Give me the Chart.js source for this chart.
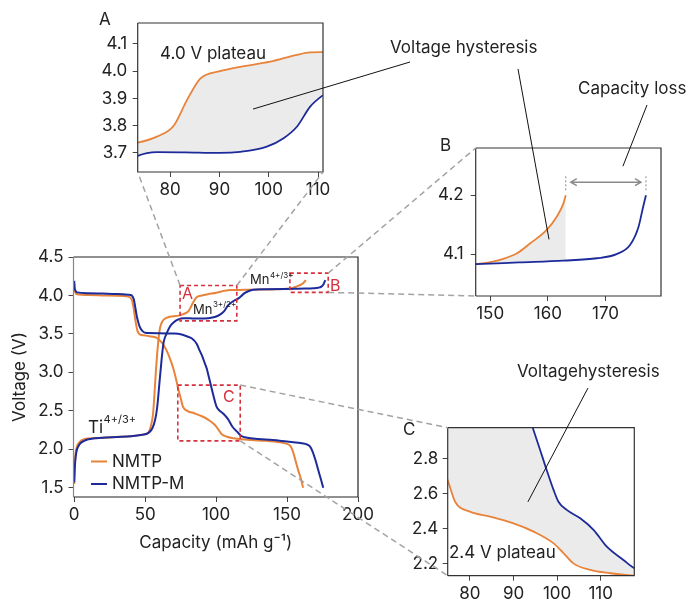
<!DOCTYPE html>
<html>
<head>
<meta charset="utf-8">
<script src="https://cdn.jsdelivr.net/npm/chart.js@4.4.1/dist/chart.umd.min.js"></script>
<style>
  body { margin: 0; background: #fff; }
  #wrap { position: relative; width: 687px; height: 604px; overflow: hidden; }
  canvas { position: absolute; }
</style>
</head>
<body>
<div id="wrap">
  <canvas id="main" width="380" height="320" style="left:0;top:240px"></canvas>
  <canvas id="insetA" width="245" height="200" style="left:90px;top:0"></canvas>
  <canvas id="insetB" width="245" height="195" style="left:430px;top:130px"></canvas>
  <canvas id="insetC" width="260" height="194" style="left:390px;top:410px"></canvas>
  <canvas id="overlay" width="687" height="604" style="left:0;top:0;pointer-events:none"></canvas>
</div>
<script>
// charge curves (capacity, voltage)
const chgCapNMTP = [0, 0.3, 1, 2, 4, 7, 10, 20, 30, 40, 48, 52, 54, 55.5, 56.5, 57.5, 58.5, 59.5, 60.5, 62, 65, 70, 73.4, 77.3, 80.7, 83.4, 86.1, 90.1, 94.2, 100.3, 105.7, 108.4, 111, 120, 130, 140, 147.5, 151.2, 154.6, 156.9, 159.8, 161.5, 162.7, 163.1];
const chgVNMTP = [1.55, 1.75, 1.95, 2.04, 2.1, 2.13, 2.14, 2.15, 2.16, 2.17, 2.19, 2.21, 2.3, 2.45, 2.7, 3.0, 3.25, 3.45, 3.58, 3.66, 3.71, 3.73, 3.738, 3.76, 3.80, 3.894, 3.973, 4.0, 4.016, 4.035, 4.06, 4.069, 4.07, 4.073, 4.076, 4.079, 4.083, 4.089, 4.101, 4.118, 4.141, 4.163, 4.186, 4.2];
const chgCapM = [0, 0.3, 1, 2, 4, 7, 10, 20, 30, 40, 48, 52, 55, 57, 58.5, 60, 61.5, 63, 65, 67.6, 70, 73.4, 77.3, 83, 90, 94.2, 99.6, 103, 105.7, 108.4, 111, 113, 116, 120, 124, 128, 135, 147.5, 155, 162.7, 168.5, 171.9, 174.2, 175.7, 176.5, 177];
const chgVM = [1.57, 1.72, 1.9, 2.0, 2.07, 2.11, 2.13, 2.15, 2.16, 2.17, 2.19, 2.21, 2.27, 2.38, 2.55, 2.85, 3.15, 3.39, 3.5, 3.6, 3.65, 3.689, 3.703, 3.702, 3.70, 3.704, 3.723, 3.754, 3.796, 3.87, 3.912, 3.935, 3.965, 4.03, 4.065, 4.078, 4.08, 4.083, 4.086, 4.089, 4.093, 4.1, 4.115, 4.146, 4.18, 4.2];

// discharge curves
const disCapNMTP = [0, 0.3, 1, 2, 10, 20, 30, 38, 40.5, 42, 43, 44.6, 46.5, 48.8, 53, 58.2, 60, 62.9, 66.4, 70, 72.3, 73.5, 75, 76.6, 80, 84.6, 90, 94.6, 99.2, 101.5, 103.8, 107.6, 112.2, 117.5, 125, 135, 145, 150, 152, 154, 156, 158, 160, 161.3];
const disVNMTP = [4.15, 4.08, 4.03, 4.015, 4.005, 4.0, 3.995, 3.985, 3.95, 3.82, 3.69, 3.54, 3.49, 3.482, 3.47, 3.45, 3.42, 3.36, 3.23, 3.04, 2.87, 2.77, 2.669, 2.554, 2.497, 2.469, 2.43, 2.383, 2.316, 2.259, 2.2, 2.164, 2.145, 2.131, 2.12, 2.11, 2.09, 2.07, 2.05, 1.98, 1.85, 1.72, 1.6, 1.5];
const disCapM = [0, 0.3, 1, 2, 10, 20, 30, 38, 40.5, 42, 43, 44.1, 45.5, 46.5, 48, 50, 60, 70, 75, 79.3, 83, 86.4, 88, 90, 92, 93.4, 94.4, 96.1, 97.6, 99.2, 100.3, 102.2, 105.3, 108.4, 111.4, 115.2, 117.8, 122, 130, 140, 150, 158, 163, 166, 168, 170, 172, 174, 175.5];
const disVM = [4.19, 4.1, 4.06, 4.04, 4.03, 4.025, 4.02, 4.01, 4.0, 3.95, 3.85, 3.73, 3.63, 3.58, 3.54, 3.515, 3.51, 3.505, 3.495, 3.47, 3.44, 3.37, 3.3, 3.22, 3.12, 3.05, 2.977, 2.85, 2.735, 2.62, 2.554, 2.507, 2.459, 2.392, 2.297, 2.221, 2.173, 2.15, 2.135, 2.12, 2.1, 2.085, 2.07, 2.04, 1.97, 1.86, 1.73, 1.6, 1.5];

// tick labels
const mainXTicks = [0, 50, 100, 150, 200];
const mainYTicks = [1.5, 2.0, 2.5, 3.0, 3.5, 4.0, 4.5];
const aXTicks = [80, 90, 100, 110];
const aYTicks = [3.7, 3.8, 3.9, 4.0, 4.1];
const bXTicks = [150, 160, 170];
const bYTicks = [4.1, 4.2];
const cXTicks = [80, 90, 100, 110];
const cYTicks = [2.2, 2.4, 2.6, 2.8];

// zoom windows marked on the main plot [xmin, xmax, ymin, ymax]
const boxA = [74.6, 114.6, 3.67, 4.13];
const boxB = [152, 179, 4.04, 4.29];
const boxC = [73, 117, 2.11, 2.835];

const FONT = 'Inter, "Noto Sans", sans-serif';
const orange = '#e8833a';
const blue = '#1c2a9a';
const red = '#d7303d';
const fillGrey = '#ebebeb';
const ink = '#222';

function pts(xs, ys) { return xs.map((x, i) => ({ x, y: ys[i] })); }

function lineSet(label, xs, ys, color, width, extra) {
  return Object.assign({
    label, data: pts(xs, ys), borderColor: color, borderWidth: width,
    pointRadius: 0, cubicInterpolationMode: 'monotone', fill: false
  }, extra || {});
}

function axis(min, max, ticks, o) {
  return {
    type: 'linear', min, max,
    afterBuildTicks: s => { s.ticks = ticks.map(v => ({ value: v })); },
    afterFit: s => { if (s.isHorizontal()) s.height = o.size; else s.width = o.size; },
    grid: { drawOnChartArea: false, drawTicks: true, tickLength: 5, color: '#444', lineWidth: 1 },
    border: { display: false },
    ticks: {
      color: ink, padding: o.pad, maxRotation: 0, autoSkip: false,
      font: { family: FONT, size: 17 },
      callback: o.fmt
    },
    title: o.title
      ? { display: true, text: o.title, color: ink, font: { family: FONT, size: 17 }, padding: o.titlePad }
      : { display: false }
  };
}

const framePlugin = {
  id: 'frame',
  afterDraw(chart, args, opts) {
    const { ctx, chartArea: a } = chart;
    ctx.save();
    ctx.lineWidth = 1.2;
    ctx.strokeStyle = opts.color || '#333';
    ctx.beginPath();
    ctx.moveTo(a.left, a.bottom); ctx.lineTo(a.right, a.bottom);
    ctx.lineTo(a.right, a.top); ctx.lineTo(a.left, a.top);
    ctx.stroke();
    ctx.strokeStyle = opts.left || opts.color || '#333';
    ctx.beginPath();
    ctx.moveTo(a.left, a.top); ctx.lineTo(a.left, a.bottom);
    ctx.stroke();
    ctx.restore();
  }
};

// red dashed zoom boxes on the main plot
const boxPlugin = {
  id: 'boxes',
  afterDatasetsDraw(chart) {
    const { ctx, scales: { x, y } } = chart;
    ctx.save();
    ctx.strokeStyle = red;
    ctx.lineWidth = 1.6;
    ctx.setLineDash([4, 3]);
    [boxA, boxB, boxC].forEach(b => {
      const x0 = x.getPixelForValue(b[0]), x1 = x.getPixelForValue(b[1]);
      const y0 = y.getPixelForValue(b[3]), y1 = y.getPixelForValue(b[2]);
      ctx.strokeRect(x0, y0, x1 - x0, y1 - y0);
    });
    ctx.restore();
  }
};

// capacity-loss arrow in inset B
const arrowPlugin = {
  id: 'lossArrow',
  afterDatasetsDraw(chart) {
    const { ctx, scales: { x, y } } = chart;
    const xa = x.getPixelForValue(163.1), xb = x.getPixelForValue(177);
    const ya = y.getPixelForValue(4.222);
    ctx.save();
    ctx.strokeStyle = '#8a8a8a';
    ctx.lineWidth = 1;
    ctx.setLineDash([2, 2]);
    ctx.beginPath();
    ctx.moveTo(xa, y.getPixelForValue(4.232)); ctx.lineTo(xa, y.getPixelForValue(4.205));
    ctx.moveTo(xb, y.getPixelForValue(4.232)); ctx.lineTo(xb, y.getPixelForValue(4.205));
    ctx.stroke();
    ctx.setLineDash([]);
    ctx.lineWidth = 1.4;
    const l = xa + 5, r = xb - 5;
    ctx.beginPath();
    ctx.moveTo(l, ya); ctx.lineTo(r, ya);
    ctx.moveTo(l + 6, ya - 3.5); ctx.lineTo(l, ya); ctx.lineTo(l + 6, ya + 3.5);
    ctx.moveTo(r - 6, ya - 3.5); ctx.lineTo(r, ya); ctx.lineTo(r - 6, ya + 3.5);
    ctx.stroke();
    ctx.restore();
  }
};

const common = {
  responsive: false, animation: false, devicePixelRatio: 1,
  plugins: { legend: { display: false }, tooltip: { enabled: false } }
};
const fmt1 = v => v.toFixed(1);
const fmt0 = v => String(v);

const mainChart = new Chart(document.getElementById('main'), {
  type: 'line',
  data: { datasets: [
    lineSet('NMTP-M', chgCapM, chgVM, blue, 2),
    lineSet('NMTP-M', disCapM, disVM, blue, 2),
    lineSet('NMTP', chgCapNMTP, chgVNMTP, orange, 2),
    lineSet('NMTP', disCapNMTP, disVNMTP, orange, 2)
  ] },
  options: Object.assign({}, common, {
    layout: { padding: { left: 0, top: 17, right: 22, bottom: 0 } },
    plugins: Object.assign({}, common.plugins, { frame: { color: '#222', left: '#888' } }),
    scales: {
      x: axis(-0.5, 200, mainXTicks, { size: 63, pad: 3, fmt: fmt0, title: 'Capacity (mAh g\u207B\u00B9)', titlePad: { top: 0, bottom: 7 } }),
      y: axis(1.38, 4.5, mainYTicks, { size: 73.5, pad: 5, fmt: fmt1, title: 'Voltage (V)', titlePad: { top: 10, bottom: 0 } })
    }
  }),
  plugins: [framePlugin, boxPlugin]
});

function inset(id, sets, xr, yr, xt, yt, pad, yw, xh, ypad, extra) {
  return new Chart(document.getElementById(id), {
    type: 'line',
    data: { datasets: sets },
    options: Object.assign({}, common, {
      layout: { padding: pad },
      plugins: Object.assign({}, common.plugins, { frame: { color: '#333' } }),
      scales: {
        x: axis(xr[0], xr[1], xt, { size: xh, pad: 3, fmt: fmt0 }),
        y: axis(yr[0], yr[1], yt, { size: yw, pad: ypad, fmt: fmt1 })
      }
    }),
    plugins: [framePlugin].concat(extra || [])
  });
}

const chartA = inset('insetA', [
  lineSet('NMTP-M', chgCapM, chgVM, blue, 1.8),
  lineSet('NMTP', chgCapNMTP, chgVNMTP, orange, 1.8, { fill: '-1', backgroundColor: fillGrey })
], [73.4, 111], [3.63, 4.177], aXTicks, aYTicks, { left: 0, top: 23, right: 12, bottom: 0 }, 47.7, 28, 5.5);

const chartB = inset('insetB', [
  lineSet('NMTP-M', chgCapM, chgVM, blue, 1.8),
  lineSet('NMTP', chgCapNMTP, chgVNMTP, orange, 1.8, { fill: '-1', backgroundColor: fillGrey })
], [147.5, 179.6], [4.029, 4.28], bXTicks, bYTicks, { left: 0, top: 18, right: 14, bottom: 0 }, 45.7, 29, 7, [arrowPlugin]);

const chartC = inset('insetC', [
  lineSet('NMTP-M', disCapM, disVM, blue, 1.8),
  lineSet('NMTP', disCapNMTP, disVNMTP, orange, 1.8, { fill: '-1', backgroundColor: fillGrey })
], [74.9, 117.7], [2.131, 2.977], cXTicks, cYTicks, { left: 0, top: 17.7, right: 15.7, bottom: 0 }, 57.7, 28.3, 4.5);

// ---------- overlay: connectors, callouts, labels ----------
const ov = document.getElementById('overlay').getContext('2d');
const offs = { main: [0, 240], insetA: [90, 0], insetB: [430, 130], insetC: [390, 410] };

function px(chart, xv, yv) {
  const o = offs[chart.canvas.id];
  return [chart.scales.x.getPixelForValue(xv) + o[0], chart.scales.y.getPixelForValue(yv) + o[1]];
}
function corner(chart, which) {
  const a = chart.chartArea, o = offs[chart.canvas.id];
  const xs = which[1] === 'l' ? a.left : a.right;
  const ys = which[0] === 't' ? a.top : a.bottom;
  return [xs + o[0], ys + o[1]];
}
function seg(p, q) { ov.beginPath(); ov.moveTo(p[0], p[1]); ov.lineTo(q[0], q[1]); ov.stroke(); }

// grey dashed connectors
ov.save();
ov.strokeStyle = '#a3a3a3';
ov.lineWidth = 1.5;
ov.setLineDash([6, 4]);
seg(px(mainChart, boxA[0], boxA[3]), corner(chartA, 'bl'));
seg(px(mainChart, boxA[1], boxA[3]), corner(chartA, 'br'));
seg(px(mainChart, boxB[1], boxB[3]), corner(chartB, 'tl'));
seg(px(mainChart, boxB[1], boxB[2]), corner(chartB, 'bl'));
seg(px(mainChart, boxC[1], boxC[3]), corner(chartC, 'tl'));
seg(px(mainChart, boxC[1], boxC[2]), corner(chartC, 'bl'));
ov.restore();

// black callout lines
ov.save();
ov.strokeStyle = '#111';
ov.lineWidth = 1;
seg([410, 62], px(chartA, 96.8, 3.861));
seg([518, 69], px(chartB, 160.2, 4.125));
seg([647, 105], px(chartB, 173, 4.249));
seg([588, 388], px(chartC, 93.3, 2.553));
ov.restore();

function text(str, x, y, size, color) {
  ov.font = size + 'px ' + FONT;
  ov.fillStyle = color || ink;
  ov.textBaseline = 'alphabetic';
  ov.textAlign = 'left';
  ov.fillText(str, x, y);
}
function supText(base, sup, x, y, size, supSize, rise) {
  text(base, x, y, size);
  ov.font = size + 'px ' + FONT;
  const w = ov.measureText(base).width;
  text(sup, x + w + 0.5, y - rise, supSize);
}

// panel letters and callout texts
text('A', 99, 25, 17);
text('B', 440, 151, 17);
text('C', 403, 435, 17);
text('4.0 V plateau', 160, 59, 17);
text('2.4 V plateau', 449, 558, 17);
text('Voltage hysteresis', 390, 53, 17);
text('Capacity loss', 578, 94, 17);
text('Voltagehysteresis', 517, 377, 17);

// red box letters
text('A', 182, 299, 16, red);
text('B', 330, 290.5, 16, red);
text('C', 223, 401.5, 16, red);

// redox couple labels
supText('Ti', '4+/3+', 88, 433, 17, 11, 10);
supText('Mn', '3+/2+', 193, 314, 13, 8, 7);
supText('Mn', '4+/3+', 250, 284, 13, 8, 6);

// legend
[['NMTP', orange, 461.5], ['NMTP-M', blue, 484]].forEach(([lab, col, y]) => {
  ov.save();
  ov.strokeStyle = col;
  ov.lineWidth = 2;
  seg([91, y], [107, y]);
  ov.restore();
  ov.font = '17px ' + FONT;
  ov.fillStyle = ink;
  ov.textBaseline = 'middle';
  ov.fillText(lab, 112, y);
});
</script>
</body>
</html>
